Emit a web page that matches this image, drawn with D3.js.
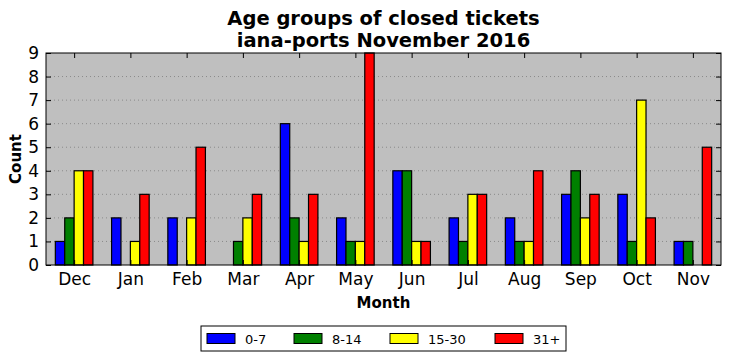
<!DOCTYPE html>
<html>
<head>
<meta charset="utf-8">
<script src="https://cdn.jsdelivr.net/npm/d3@7"></script>
<style>
  body { margin: 0; background: #fff; }
  text { font-family: "DejaVu Sans", sans-serif; }
</style>
</head>
<body>
<div id="draw"></div>
<script>
// data
let months = ['Dec', 'Jan', 'Feb', 'Mar', 'Apr', 'May', 'Jun', 'Jul', 'Aug', 'Sep', 'Oct', 'Nov'];
let groups = ['0-7', '8-14', '15-30', '31+'];
let age_0_7 = [1, 2, 2, 0, 6, 2, 4, 2, 2, 3, 3, 1];
let age_8_14 = [2, 0, 0, 1, 2, 1, 4, 1, 1, 4, 1, 1];
let age_15_30 = [4, 1, 2, 2, 1, 1, 1, 3, 1, 2, 7, 0];
let age_31 = [4, 3, 5, 3, 3, 9, 1, 3, 4, 3, 2, 5];
let y_ticks = [0, 1, 2, 3, 4, 5, 6, 7, 8, 9];
let colors = ['#0000ff', '#008000', '#ffff00', '#ff0000'];

let series = [age_0_7, age_8_14, age_15_30, age_31];

// parameters
let width = 731, height = 361;
let margin = { top: 53, left: 46, bottom: 96, right: 10 };
let w = width - margin.left - margin.right,
    h = height - margin.top - margin.bottom;
let bar_w = 0.167;

let svg = d3.select('#draw').append('svg').attr('width', width).attr('height', height);
let g = svg.append('g').attr('transform', 'translate(' + margin.left + ',' + margin.top + ')');

let x = d3.scaleLinear().domain([-0.5, months.length - 0.5]).range([0, w]);
let y = d3.scaleLinear().domain([0, 9]).range([h, 0]);

// background
g.append('rect').attr('width', w).attr('height', h).style('fill', '#bfbfbf');

// grid
g.append('g').selectAll('line')
    .data(y_ticks.slice(1, -1))
    .enter().append('line')
    .attr('x1', 0).attr('x2', w)
    .attr('y1', d => y(d)).attr('y2', d => y(d))
    .style('stroke', '#8a8a8a').style('stroke-width', 1).style('stroke-dasharray', '1,3');

// bars
series.forEach((s, k) => {
    g.append('g').selectAll('rect')
        .data(s)
        .enter().append('rect')
        .attr('x', (d, i) => x(i + (k - 2) * bar_w))
        .attr('y', d => y(d))
        .attr('width', x(bar_w) - x(0))
        .attr('height', d => y(0) - y(d))
        .style('fill', colors[k])
        .style('stroke', '#000')
        .style('stroke-width', 1.2);
});

// axes
let tick_in = 5;
let xa = g.append('g').attr('transform', 'translate(0,' + h + ')')
    .call(d3.axisBottom(x).tickValues(d3.range(months.length)).tickFormat(i => months[i]).tickSize(-tick_in).tickPadding(8));
let xt = g.append('g')
    .call(d3.axisTop(x).tickValues(d3.range(months.length)).tickFormat('').tickSize(-tick_in));
let ya = g.append('g')
    .call(d3.axisLeft(y).tickValues(y_ticks).tickSize(-tick_in).tickPadding(7));
let yr = g.append('g').attr('transform', 'translate(' + w + ',0)')
    .call(d3.axisRight(y).tickValues(y_ticks).tickFormat('').tickSize(-tick_in));
[xa, xt, ya, yr].forEach(a => {
    a.select('.domain').remove();
    a.selectAll('line').style('stroke', '#000');
    a.selectAll('text').style('font-size', '17px').style('fill', '#000').style('font-family', '"DejaVu Sans", sans-serif');
});

// frame
g.append('rect').attr('width', w).attr('height', h)
    .style('fill', 'none').style('stroke', '#000').style('stroke-width', 1);

// titles
let cx = margin.left + w / 2;
svg.append('text').attr('x', cx).attr('y', 25).attr('text-anchor', 'middle')
    .style('font-size', '19.5px').style('font-weight', 'bold').text('Age groups of closed tickets');
svg.append('text').attr('x', cx).attr('y', 47).attr('text-anchor', 'middle')
    .style('font-size', '19.5px').style('font-weight', 'bold').text('iana-ports November 2016');
svg.append('text').attr('x', cx).attr('y', 308).attr('text-anchor', 'middle')
    .style('font-size', '15px').style('font-weight', 'bold').text('Month');
svg.append('text').attr('transform', 'translate(21,' + (margin.top + h / 2) + ') rotate(-90)')
    .attr('text-anchor', 'middle')
    .style('font-size', '15px').style('font-weight', 'bold').text('Count');

// legend
let legend = svg.append('g').attr('transform', 'translate(201,326)');
legend.append('rect').attr('width', 365).attr('height', 25)
    .style('fill', '#fff').style('stroke', '#000').style('stroke-width', 1);
let item_x = [6, 93, 189, 294];
let items = legend.selectAll('g.item').data(groups).enter().append('g')
    .attr('transform', (d, i) => 'translate(' + item_x[i] + ',0)');
items.append('rect').attr('y', 7.5).attr('width', 28).attr('height', 10)
    .style('fill', (d, i) => colors[i]).style('stroke', '#000').style('stroke-width', 1);
items.append('text').attr('x', 38).attr('y', 17.5).style('font-size', '13px').text(d => d);
</script>
</body>
</html>
